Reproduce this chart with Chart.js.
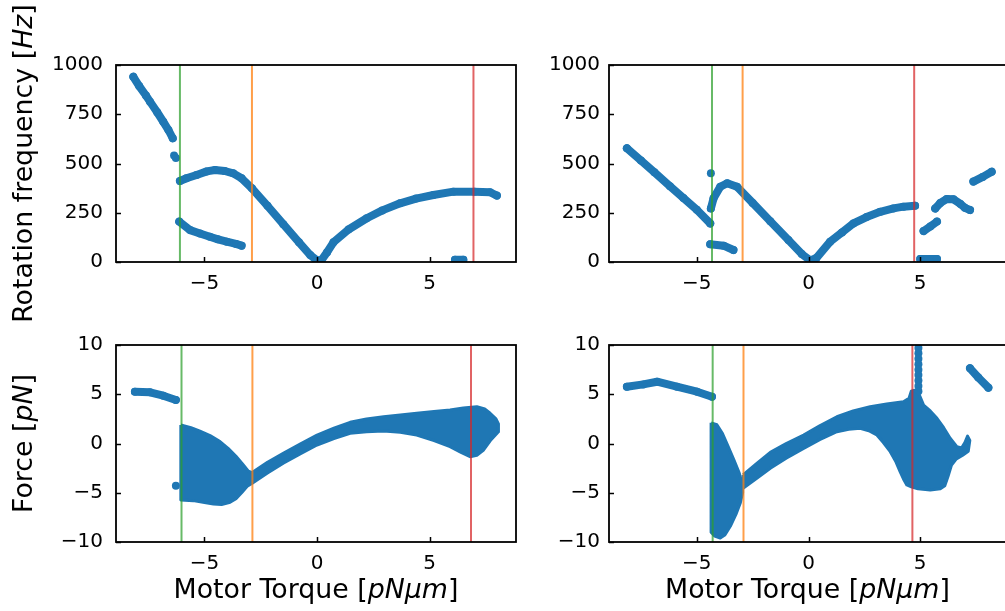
<!DOCTYPE html>
<html><head><meta charset="utf-8">
<script src="https://cdn.jsdelivr.net/npm/chart.js@4.4.1/dist/chart.umd.min.js"></script>
<style>
html,body{margin:0;padding:0;background:#fff;overflow:hidden;width:1005px;height:611px;position:relative;}
canvas{position:absolute;}
</style></head><body>
<canvas id="tl" width="540" height="340" style="left:0;top:0"></canvas>
<canvas id="tr" width="537" height="302" style="left:493px;top:0"></canvas>
<canvas id="bl" width="540" height="331" style="left:0;top:280px"></canvas>
<canvas id="br" width="537" height="331" style="left:493px;top:280px"></canvas>
<script>
// ---------- axes / ticks ----------
const torqueRange = [-8.93, 8.84];
const torqueTicks = [-5, 0, 5];
const freqRange = [0, 1000];
const freqTicks = [0, 250, 500, 750, 1000];
const forceRange = [-10, 10];
const forceTicks = [-10, -5, 0, 5, 10];

// ---------- titles (text, italic) ----------
const torqueTitle = [['Motor Torque [', false], ['pNμm', true], [']', false]];
const freqTitle = [['Rotation frequency [', false], ['Hz', true], [']', false]];
const forceTitle = [['Force [', false], ['pN', true], [']', false]];

// ---------- marker torques (green, orange, red) ----------
const tlMarkers = [-6.09, -2.89, 6.95];
const blMarkers = [-6.02, -2.87, 6.84];
const trMarkers = [-4.32, -2.95, 4.73];
const brMarkers = [-4.29, -2.91, 4.65];
const markerColors = ['rgba(44,160,44,0.72)', 'rgba(255,127,14,0.75)', 'rgba(214,39,40,0.72)'];

// ---------- top-left: rotation frequency ----------
const tlFastBranch = [[-8.16,940],[-7.9,893],[-7.6,845],[-7.42,814],[-7.1,760],[-6.83,712],[-6.6,670],[-6.41,628]];
const tlIsolated = [[-6.35,540],[-6.27,528]];
const tlMainBranch = [[-6.09,411],[-5.8,425],[-5.35,442],[-4.9,460],[-4.53,467],[-4.1,462],[-3.72,450],[-3.35,425],[-2.89,374],[-2.2,285],[-1.5,192],[-0.8,100],[-0.3,35],[0,8],[0.2,10],[0.45,50],[0.73,100],[1.4,165],[2.21,222],[2.9,262],[3.69,298],[4.4,322],[5.17,340],[6.06,357],[7.0,356],[7.69,354],[7.99,337]];
const tlLowBranch = [[-6.12,205],[-5.64,162],[-5.2,145],[-4.76,128],[-4.4,115],[-4.01,103],[-3.6,92],[-3.35,83]];
const tlFloor = [[6.13,12],[6.5,12]];

// ---------- top-right: rotation frequency ----------
const trFastBranch = [[-8.13,577],[-7.5,515],[-6.9,455],[-6.2,385],[-5.6,325],[-5.0,265],[-4.4,196]];
const trIsolated = [[-4.37,450]];
const trMainBranch = [[-4.37,272],[-4.25,323],[-3.95,382],[-3.64,400],[-3.2,382],[-2.5,300],[-1.71,207],[-0.9,112],[-0.3,40],[0.08,8],[0.35,20],[0.97,103],[1.5,150],[2.01,196],[2.6,228],[3.21,255],[3.8,272],[4.25,281],[4.77,286]];
const trLowBranch = [[-4.4,90],[-3.8,83],[-3.36,61]];
const trFloor = [[5.0,15],[5.75,15]];
const trRise = [[5.15,157],[5.45,180],[5.75,205]];
const trHump = [[5.67,272],[5.9,300],[6.19,320],[6.49,318],[6.8,295],[7.0,275],[7.23,264]];
const trTail = [[7.38,408],[7.8,432],[8.2,458]];

// ---------- bottom-left: force ----------
const blPlateau = [[-8.09,5.26],[-7.42,5.2],[-6.83,4.85],[-6.27,4.42]];
const blStub = [[-6.27,-4.3]];
const blBand = [[-6.05,1.88],[-5.6,1.6],[-5.2,1.25],[-4.75,0.8],[-4.31,0.2],[-3.95,-0.5],[-3.6,-1.3],[-3.3,-2.1],[-3.05,-2.8],[-2.88,-2.95],[-2.2,-1.9],[-1.5,-1.0],[-0.75,-0.05],[0,0.86],[0.75,1.55],[1.47,2.15],[2.2,2.5],[2.96,2.72],[3.7,2.9],[4.43,3.07],[5.2,3.25],[5.91,3.4],[6.5,3.6],[7.1,3.74],[7.45,3.5],[7.69,3.07],[7.95,2.5],[8.06,2.0],[8.06,1.2],[7.7,0.3],[7.4,-0.66],[7.1,-1.2],[6.8,-1.34],[6.4,-0.9],[5.91,-0.32],[5.2,0.3],[4.43,0.86],[3.7,1.15],[2.96,1.27],[2.2,1.2],[1.47,1.04],[0.75,0.5],[0,-0.15],[-0.75,-1.05],[-1.5,-2.0],[-2.2,-3.0],[-2.88,-4.04],[-3.1,-4.35],[-3.35,-5.0],[-3.6,-5.6],[-3.9,-6.0],[-4.24,-6.2],[-4.6,-6.15],[-5.0,-6.0],[-5.5,-5.8],[-6.05,-5.74],[-6.05,1.88]];

// ---------- bottom-right: force ----------
const brPlateau = [[-8.13,5.77],[-7.4,6.0],[-6.78,6.27],[-5.89,5.77],[-4.99,5.26],[-4.32,4.75]];
const brBandLeft = [[-4.36,2.1],[-4.1,1.9],[-3.85,1.0],[-3.6,-0.3],[-3.35,-1.6],[-3.1,-3.0],[-2.95,-4.3],[-2.95,-5.0],[-3.05,-6.0],[-3.25,-7.2],[-3.5,-8.4],[-3.75,-9.3],[-3.95,-9.6],[-4.2,-9.4],[-4.36,-9.0],[-4.36,2.1]];
const brBandRight = [[-2.93,-3.2],[-2.3,-2.0],[-1.71,-0.9],[-1.0,0.0],[-0.22,0.86],[0.5,1.8],[1.27,2.72],[2.0,3.3],[2.76,3.74],[3.5,4.0],[4.25,4.24],[4.5,4.6],[4.6,5.3],[4.75,5.4],[4.95,5.0],[5.15,3.9],[5.45,3.3],[5.75,2.56],[6.05,1.6],[6.34,0.53],[6.64,-0.32],[6.85,-0.45],[7.0,0.1],[7.12,0.75],[7.22,0.3],[7.15,-0.8],[6.9,-1.2],[6.6,-1.6],[6.4,-2.2],[6.25,-3.3],[6.1,-4.3],[5.9,-4.6],[5.45,-4.72],[4.9,-4.6],[4.6,-4.4],[4.4,-4.21],[4.25,-3.6],[4.1,-2.86],[3.9,-1.8],[3.66,-0.83],[3.35,0.1],[3.06,0.86],[2.7,1.3],[2.31,1.54],[1.8,1.45],[1.27,1.2],[0.5,0.4],[-0.22,-0.49],[-1.0,-1.5],[-1.71,-2.52],[-2.3,-3.5],[-2.93,-4.55],[-2.93,-3.2]];
const brSpike = [[4.92,9.7],[4.92,9.15],[4.92,8.6],[4.92,8.05],[4.92,7.5],[4.92,6.95],[4.92,6.4],[4.92,5.85],[4.92,5.3]];
const brTail = [[7.23,7.63],[7.6,6.7],[8.05,5.67]];

// ---------- styling / helpers ----------
const BLUE = '#1f77b4';
Chart.defaults.font.family = '"DejaVu Sans", sans-serif';
Chart.defaults.font.size = 20;
Chart.defaults.color = '#000';

const fmt = v => String(v).replace('-', '\u2212');

function curve(data) {
  return {data, showLine: true, borderColor: BLUE, backgroundColor: BLUE, borderWidth: 8,
    pointRadius: 4, pointBorderWidth: 0, borderCapStyle: 'round', borderJoinStyle: 'round', order: 2};
}
function dots(data) {
  return {data, showLine: false, backgroundColor: BLUE, borderColor: BLUE, pointRadius: 4, pointBorderWidth: 0, order: 2};
}
function band(data) {
  return {data, showLine: true, fill: 'shape', borderColor: BLUE, backgroundColor: BLUE, borderWidth: 3,
    pointRadius: 0, borderJoinStyle: 'round', order: 2};
}
function markers(vals, yr) {
  return vals.map((m, k) => ({data: [[m, yr[0]], [m, yr[1]]], showLine: true, borderColor: markerColors[k],
    borderWidth: 2, pointRadius: 0, order: 0}));
}

const framePlugin = {
  id: 'frame',
  afterDatasetsDraw(chart) {
    const {ctx, chartArea: a, scales: {x, y}} = chart;
    ctx.save();
    ctx.strokeStyle = '#000';
    ctx.lineWidth = 1.5;
    x.ticks.forEach(t => { const p = Math.round(x.getPixelForValue(t.value)) + 0.5;
      ctx.beginPath(); ctx.moveTo(p, a.bottom); ctx.lineTo(p, a.bottom - 5); ctx.stroke(); });
    y.ticks.forEach(t => { const p = Math.round(y.getPixelForValue(t.value)) + 0.5;
      ctx.beginPath(); ctx.moveTo(a.left, p); ctx.lineTo(a.left + 5, p); ctx.stroke(); });
    ctx.lineWidth = 1.8;
    ctx.strokeRect(a.left, a.top, a.right - a.left, a.bottom - a.top);
    ctx.restore();
  }
};

function drawRich(ctx, parts, cx, cy, rot) {
  ctx.save();
  ctx.translate(cx, cy); ctx.rotate(rot);
  ctx.fillStyle = '#000'; ctx.textBaseline = 'alphabetic'; ctx.textAlign = 'left';
  const fonts = parts.map(p => (p[1] ? 'italic ' : '') + '26.8px "DejaVu Sans"');
  let total = 0;
  const widths = parts.map((p, k) => { ctx.font = fonts[k]; const w = ctx.measureText(p[0]).width; total += w; return w; });
  let x = -total / 2;
  parts.forEach((p, k) => { ctx.font = fonts[k]; ctx.fillText(p[0], x, 0); x += widths[k]; });
  ctx.restore();
}
function titlePlugin(xParts, xBase, yParts, yBase) {
  return {
    id: 'axisTitles',
    afterDraw(chart) {
      const {ctx, chartArea: a} = chart;
      if (xParts) drawRich(ctx, xParts, (a.left + a.right) / 2, xBase, 0);
      if (yParts) drawRich(ctx, yParts, yBase, (a.top + a.bottom) / 2, -Math.PI / 2);
    }
  };
}

function makeChart(id, datasets, yRange, yTicks, xH, yPad, titles) {
  return new Chart(document.getElementById(id), {
    type: 'scatter',
    data: {datasets},
    options: {
      responsive: false, animation: false, events: [],
      devicePixelRatio: 1,
      layout: {padding: {left: 0, top: 65, right: 24, bottom: 0}},
      plugins: {legend: {display: false}, tooltip: {enabled: false}},
      scales: {
        x: {type: 'linear', min: torqueRange[0], max: torqueRange[1],
          grid: {display: false, drawTicks: false}, border: {display: false},
          ticks: {padding: 10, color: '#000', font: {size: 20}, callback: fmt, maxRotation: 0},
          afterBuildTicks: s => { s.ticks = torqueTicks.map(v => ({value: v})); },
          afterFit: s => { s.height = xH; }},
        y: {type: 'linear', min: yRange[0], max: yRange[1],
          grid: {display: false, drawTicks: false}, border: {display: false},
          ticks: {padding: yPad, color: '#000', font: {size: 20}, callback: fmt},
          afterBuildTicks: s => { s.ticks = yTicks.map(v => ({value: v})); },
          afterFit: s => { s.width = 116; }}
      }
    },
    plugins: [framePlugin, titlePlugin(titles.x, titles.xBase, titles.y, titles.yBase)]
  });
}

makeChart('tl', [
  ...markers(tlMarkers, freqRange),
  curve(tlFastBranch), dots(tlIsolated), curve(tlMainBranch), curve(tlLowBranch), curve(tlFloor)
], freqRange, freqTicks, 78, 13, {y: freqTitle, yBase: 32});

makeChart('tr', [
  ...markers(trMarkers, freqRange),
  curve(trFastBranch), dots(trIsolated), curve(trMainBranch), curve(trLowBranch),
  curve(trFloor), curve(trRise), curve(trHump), curve(trTail)
], freqRange, freqTicks, 40, 9, {});

makeChart('bl', [
  ...markers(blMarkers, forceRange),
  curve(blPlateau), dots(blStub), band(blBand)
], forceRange, forceTicks, 69, 13, {y: forceTitle, yBase: 32, x: torqueTitle, xBase: 318});

makeChart('br', [
  ...markers(brMarkers, forceRange),
  curve(brPlateau), band(brBandLeft), band(brBandRight), dots(brSpike), curve(brTail)
], forceRange, forceTicks, 69, 9, {x: torqueTitle, xBase: 318});
</script>
</body></html>
